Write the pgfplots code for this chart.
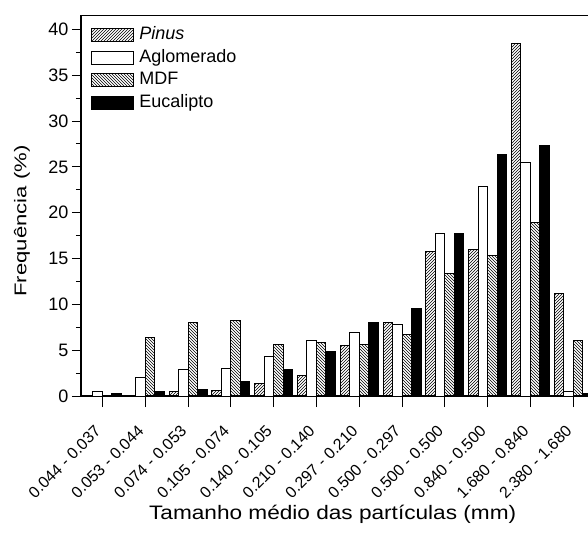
\documentclass[border=0pt]{standalone}
\usepackage{fontspec}
\setmainfont{Liberation Sans}
\usepackage{graphicx}
\usepackage{pgfplots}
\pgfplotsset{compat=1.18}
\usetikzlibrary{patterns}

\pgfplotstableread{
x Pinus Aglom MDF Euc
0  0     0.45  0     0.25
1  0     2.00  6.36  0.47
2  0.47  2.90  8.03  0.73
3  0.65  3.00  8.20  1.63
4  1.38  4.36  5.67  2.90
5  2.20  6.10  5.85  4.83
6  5.49  6.94  5.67  8.03
7  8.03  7.81  6.76  9.56
8  15.80 17.73 13.37 17.73
9  15.98 22.90 15.37 26.40
10 38.50 25.47 18.90 27.30
11 11.19 0.47  6.03  0.30
}\datatable

\begin{document}
\begin{tikzpicture}
\begin{axis}[
  scale only axis,
  width=513.6pt, height=380.3pt,
  xmin=-0.5, xmax=11.5, ymin=0, ymax=41.5,
  ybar, bar width=9.5pt,
  xtick={0,...,11},
  xticklabels={0.044 - 0.037, 0.053 - 0.044, 0.074 - 0.053, 0.105 - 0.074, 0.140 - 0.105, 0.210 - 0.140, 0.297 - 0.210, 0.500 - 0.297, 0.500 - 0.500, 0.840 - 0.500, 1.680 - 0.840, 2.380 - 1.680},
  xtick pos=bottom, ytick pos=left,
  tick align=outside,
  ytick={0,5,...,40},
  minor y tick num=1,
  major tick length=9pt, minor tick length=5pt,
  xtick style={/pgfplots/major tick length=11pt},
  axis line style={line width=1.2pt},
  tick style={line width=1pt, black},
  /pgf/number format/assume math mode=true,
  yticklabel style={font=\fontsize{18}{20}\selectfont},
  xticklabel style={font=\fontsize{16}{18}\selectfont, yshift=-21pt, xshift=-2pt, rotate=45, anchor=east},
  ylabel={\scalebox{1.3}[1]{Frequência (\%)}},
  ylabel style={font=\fontsize{17}{19}\selectfont, at={(axis description cs:-0.115,0.46)}, anchor=center},
  xlabel={\scalebox{1.16}[1]{Tamanho médio das partículas (mm)}},
  xlabel style={font=\fontsize{19.5}{21}\selectfont, at={(axis description cs:0.49,-0.31)}, anchor=center},
  legend style={at={(axis description cs:0.02,0.975)}, anchor=north west, draw=none, fill=none,
    font=\fontsize{18}{20}\selectfont, row sep=2.5pt, inner sep=0pt,
    nodes={inner ysep=1.5pt, inner xsep=5pt, text height=13pt, text depth=4pt}},
  legend cell align=left,
  legend image code/.code={\draw[#1,bar shift=0pt] (0pt,-6.5pt) rectangle (42pt,6.5pt);},
]
\addplot[draw=black, line width=0.9pt, pattern=north east lines, bar shift=-14.25pt] table[x=x,y=Pinus]{\datatable};
\addplot[draw=black, line width=0.9pt, fill=white, bar shift=-4.75pt] table[x=x,y=Aglom]{\datatable};
\addplot[draw=black, line width=0.9pt, pattern=north west lines, bar shift=4.75pt] table[x=x,y=MDF]{\datatable};
\addplot[draw=black, line width=0.9pt, fill=black, bar shift=14.25pt] table[x=x,y=Euc]{\datatable};
\legend{\textit{Pinus}, Aglomerado, MDF, Eucalipto}
\coordinate (ll) at (rel axis cs:0,0);
\end{axis}
\pgfresetboundingbox
\path[use as bounding box] (ll) ++(-81pt,-136pt) rectangle ++(588pt,532pt);
\end{tikzpicture}
\end{document}
